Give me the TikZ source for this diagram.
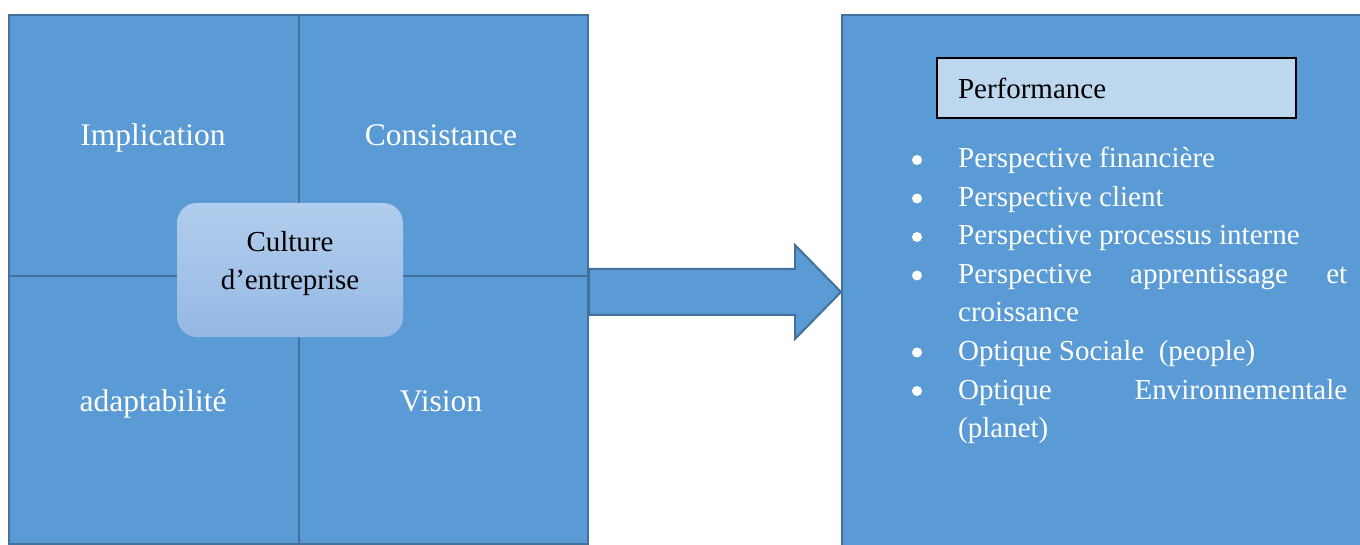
\documentclass[tikz,border=0pt]{standalone}
\usepackage{fontspec}
\setmainfont{Liberation Serif}
\definecolor{cellblue}{HTML}{5B9BD5}
\definecolor{cellborder}{HTML}{41719C}
\definecolor{perffill}{HTML}{BDD7EE}
\definecolor{culttop}{HTML}{B2CDED}
\definecolor{cultbot}{HTML}{95B9E4}
\begin{document}
\begin{tikzpicture}[x=1pt,y=-1pt,
  cell/.style={draw=cellborder, line width=2pt, fill=cellblue, minimum width=289.5pt, inner sep=0pt, anchor=north west},
  biglab/.style={anchor=base, inner sep=0pt, text=white, font=\fontsize{31.5}{38}\selectfont},
  item/.style={anchor=base west, inner sep=0pt, text=white, font=\fontsize{29}{38}\selectfont},
  bul/.style={circle, fill=white, inner sep=0pt, minimum size=10pt},
  blockarrow/.style={draw=cellborder, line width=2pt, fill=cellblue, line join=miter}
]
\useasboundingbox (0,0) rectangle (1360,545);
% left grid
\node[cell, minimum height=261pt] (c1) at (8,14) {};
\node[cell, minimum height=261pt] (c2) at (297.5,14) {};
\node[cell, minimum height=268pt] (c3) at (8,275) {};
\node[cell, minimum height=268pt] (c4) at (297.5,275) {};
\node[biglab] (impl) at (153,146) {Implication};
\node[biglab] (cons) at (441,146) {Consistance};
\node[biglab] (adap) at (153,411) {adaptabilité};
\node[biglab] (visi) at (441,411) {Vision};
% central box
\node[rounded corners=20pt, top color=culttop, bottom color=cultbot, draw=none,
      minimum width=226pt, minimum height=134pt, inner sep=0pt] (cult) at (290,270) {};
\node[align=center, inner sep=0pt, font=\fontsize{29}{38}\selectfont] (culttxt) at (290,264) {Culture\\d’entreprise};
% right box
\node[cell, minimum width=525pt, minimum height=540pt] (rbox) at (841,14) {};
% block arrow from the grid to the right box
\coordinate (atail) at (c4.east |- 0,292);
\coordinate (atip) at (rbox.west |- atail);
\draw[blockarrow] (atail |- 0,269) -- (795,269) -- (795,245) -- (atip)
  -- (795,339) -- (795,315) -- (atail |- 0,315) -- cycle;
% performance
\node[draw=black, line width=2pt, fill=perffill, minimum width=359pt, minimum height=60pt,
      text width=317pt, inner xsep=21pt, align=left, font=\fontsize{29}{38}\selectfont] (perf) at (1116.5,88) {Performance};
% bullets
\node[bul] (b1) at (917,160) {};
\node[bul] (b2) at (917,198.5) {};
\node[bul] (b3) at (917,237) {};
\node[bul] (b4) at (917,275.5) {};
\node[bul] (b5) at (917,352.5) {};
\node[bul] (b6) at (917,391) {};
\node[item] (p1) at (958,168) {Perspective financière};
\node[item] (p2) at (958,206.5) {Perspective client};
\node[item] (p3) at (958,245) {Perspective processus interne};
\node[item] (p4) at (958,283.5) {\hbox to 389pt{Perspective\hfill apprentissage\hfill et}};
\node[item] (p4b) at (958,322) {croissance};
\node[item] (p5) at (958,360.5) {Optique Sociale\ \ (people)};
\node[item] (p6) at (958,399) {\hbox to 389pt{Optique\hfill Environnementale}};
\node[item] (p6b) at (958,437.5) {(planet)};
\end{tikzpicture}
\end{document}
